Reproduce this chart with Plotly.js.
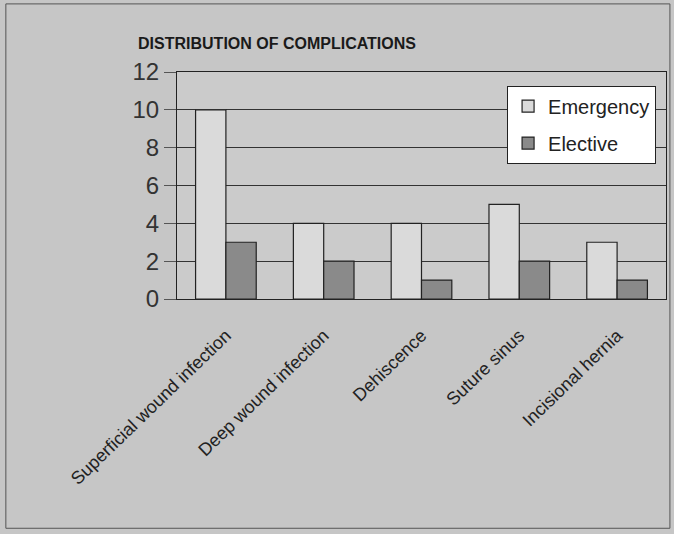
<!DOCTYPE html>
<html><head><meta charset="utf-8">
<script src="https://cdn.plot.ly/plotly-3.0.1.min.js"></script>
<style>html,body{margin:0;padding:0;background:#c6c6c6;}#chart{width:674px;height:534px;}</style>
</head><body><div id="chart"></div>
<script>
const categories = ["Superficial wound infection", "Deep wound infection", "Dehiscence", "Suture sinus", "Incisional hernia"];
const emergency = [10, 4, 4, 5, 3];
const elective = [3, 2, 1, 2, 1];
const yTicks = [0, 2, 4, 6, 8, 10, 12];

const traces = [
  {type:'bar', name:'Emergency', x:categories, y:emergency, legendgroup:'a',
   marker:{color:'#dadada', line:{color:'#222', width:1.2}}},
  {type:'bar', name:'Elective', x:categories, y:elective, legendgroup:'b',
   marker:{color:'#8a8a8a', line:{color:'#222', width:1.2}}}
];
const layout = {
  width:674, height:534,
  paper_bgcolor:'#c6c6c6', plot_bgcolor:'#cbcbcb',
  margin:{l:177, r:8, t:72, b:235},
  font:{family:'Liberation Sans, Arial, sans-serif', color:'#222'},
  title:{text:'<b>DISTRIBUTION OF COMPLICATIONS</b>', font:{size:16, color:'#1a1a1a', family:'Liberation Sans, Arial, sans-serif'},
         xref:'container', x:0.411, xanchor:'center', yref:'container', y:0.918, yanchor:'middle'},
  barmode:'group', bargap:0.38, bargroupgap:0,
  xaxis:{tickangle:-44, tickfont:{size:18, color:'#222'}, showline:true, linecolor:'#222', linewidth:1,
         mirror:true, ticks:'outside', ticklen:18, tickcolor:'rgba(0,0,0,0)', showgrid:false},
  yaxis:{range:[0,12], tickvals:yTicks, tickfont:{size:24, color:'#333'}, showline:true, linecolor:'#222',
         linewidth:1, mirror:true, showgrid:true, gridcolor:'#333', gridwidth:1, ticks:'outside',
         ticklen:12, tickcolor:'#555', zeroline:false},
  legend:{x:0.675, y:0.94, xanchor:'left', yanchor:'top', bgcolor:'#ffffff', bordercolor:'#222', borderwidth:1,
          font:{size:20, color:'#222'}, traceorder:'grouped', tracegroupgap:8, itemwidth:30},
  shapes:[{type:'rect', xref:'paper', yref:'paper', x0:-0.35, x1:1.008, y0:-1.01, y1:1.3,
           line:{color:'#555', width:1}, fillcolor:'rgba(0,0,0,0)'}]
};
Plotly.newPlot('chart', traces, layout, {displayModeBar:false, staticPlot:true});
</script></body></html>
